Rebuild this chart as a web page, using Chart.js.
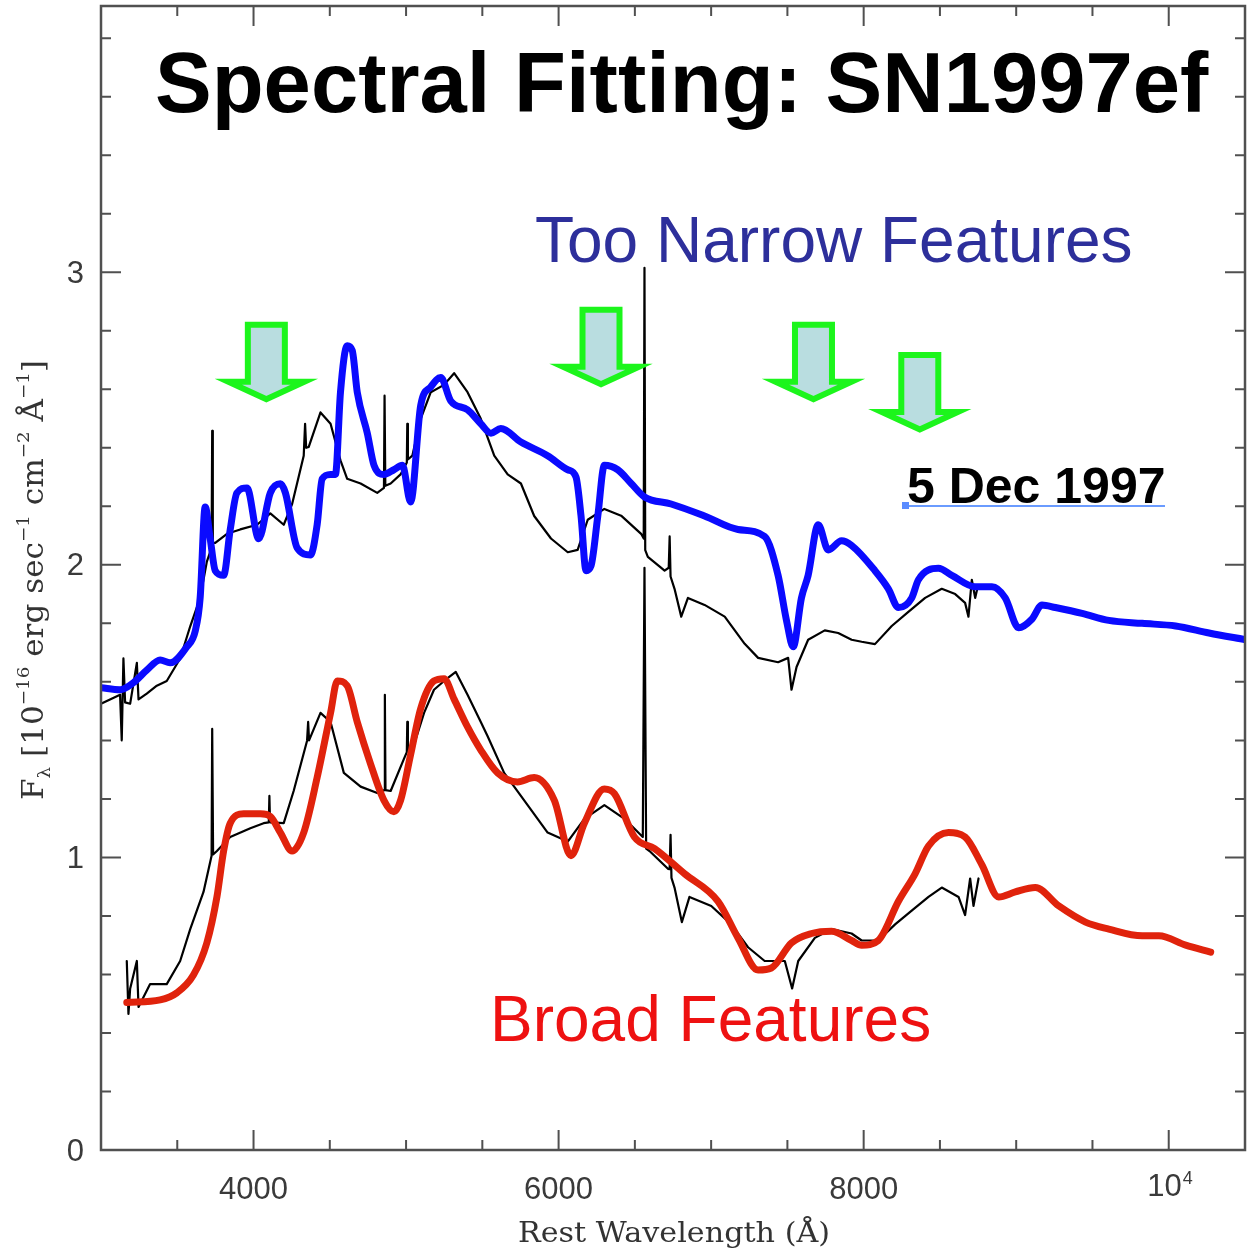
<!DOCTYPE html>
<html>
<head>
<meta charset="utf-8">
<script src="https://cdn.jsdelivr.net/npm/chart.js@4.4.0/dist/chart.umd.min.js"></script>
<style>
  html, body { margin: 0; padding: 0; background: #fff; }
  #wrap { width: 1249px; height: 1253px; position: relative; }
</style>
</head>
<body>
<div id="wrap"><canvas id="spectrum"></canvas></div>
<script>
// Model fit with features that are too narrow (blue)
const blueWave = [3000, 3125, 3212, 3300, 3388, 3453, 3563, 3618, 3650, 3683, 3716, 3749, 3804, 3847, 3891, 3957, 4034, 4110, 4176, 4209, 4286, 4373, 4417, 4450, 4505, 4537, 4570, 4614, 4647, 4680, 4746, 4790, 4855, 4920, 4976, 5030, 5096, 5162, 5227, 5293, 5403, 5490, 5556, 5621, 5753, 5928, 6060, 6114, 6147, 6180, 6213, 6257, 6300, 6388, 6476, 6563, 6738, 6957, 7176, 7351, 7439, 7494, 7538, 7592, 7636, 7702, 7768, 7855, 7921, 8074, 8162, 8228, 8315, 8359, 8490, 8578, 8731, 8841, 8928, 9016, 9104, 9169, 9257, 9432, 9607, 9826, 10045, 10264, 10505];
const blueFlux = [1.58, 1.573, 1.597, 1.64, 1.675, 1.665, 1.72, 1.774, 1.887, 2.198, 2.089, 1.98, 1.964, 2.12, 2.246, 2.263, 2.089, 2.246, 2.277, 2.246, 2.058, 2.034, 2.137, 2.294, 2.309, 2.309, 2.59, 2.749, 2.733, 2.59, 2.45, 2.34, 2.309, 2.325, 2.34, 2.215, 2.545, 2.608, 2.64, 2.56, 2.53, 2.482, 2.45, 2.466, 2.42, 2.373, 2.325, 2.30, 2.167, 1.98, 1.997, 2.167, 2.34, 2.325, 2.278, 2.232, 2.208, 2.167, 2.121, 2.097, 1.964, 1.81, 1.72, 1.887, 1.964, 2.137, 2.051, 2.082, 2.066, 1.98, 1.918, 1.854, 1.887, 1.949, 1.988, 1.964, 1.925, 1.925, 1.887, 1.785, 1.815, 1.863, 1.854, 1.834, 1.81, 1.80, 1.791, 1.767, 1.744];

// Model fit with broad features (red)
const redWave = [3169, 3388, 3497, 3606, 3694, 3760, 3804, 3847, 3935, 4045, 4110, 4176, 4253, 4329, 4417, 4505, 4549, 4614, 4680, 4767, 4855, 4920, 4964, 5030, 5096, 5183, 5249, 5315, 5403, 5490, 5600, 5731, 5840, 5972, 6081, 6169, 6300, 6366, 6497, 6629, 6826, 7045, 7176, 7308, 7395, 7527, 7658, 7790, 7921, 7987, 8096, 8228, 8337, 8425, 8556, 8665, 8775, 8885, 8994, 9125, 9279, 9454, 9607, 9826, 9936, 10111, 10275];
const redFlux = [0.504, 0.513, 0.537, 0.598, 0.708, 0.865, 1.022, 1.117, 1.149, 1.149, 1.14, 1.085, 1.022, 1.085, 1.273, 1.494, 1.603, 1.587, 1.463, 1.32, 1.195, 1.156, 1.195, 1.352, 1.509, 1.603, 1.611, 1.541, 1.446, 1.367, 1.289, 1.258, 1.273, 1.195, 1.006, 1.117, 1.234, 1.218, 1.07, 1.03, 0.944, 0.85, 0.725, 0.615, 0.622, 0.708, 0.74, 0.748, 0.716, 0.70, 0.716, 0.85, 0.944, 1.039, 1.085, 1.07, 0.975, 0.865, 0.882, 0.897, 0.834, 0.779, 0.755, 0.732, 0.732, 0.70, 0.676];

// Observed spectrum, upper copy
const obsUpWave = [3000, 3125, 3136, 3147, 3158, 3191, 3235, 3246, 3300, 3366, 3431, 3519, 3585, 3650, 3694, 3725, 3729, 3733, 3749, 3826, 3913, 4023, 4110, 4198, 4253, 4329, 4338, 4345, 4362, 4439, 4505, 4570, 4614, 4702, 4811, 4855, 4859, 4864, 4899, 4964, 5005, 5008, 5012, 5041, 5096, 5162, 5249, 5315, 5403, 5490, 5578, 5666, 5753, 5840, 5950, 6060, 6125, 6191, 6300, 6410, 6541, 6558, 6563, 6568, 6585, 6695, 6722, 6728, 6734, 6760, 6804, 6848, 6957, 7089, 7220, 7308, 7439, 7505, 7527, 7560, 7636, 7745, 7833, 7921, 7987, 8074, 8184, 8293, 8403, 8512, 8600, 8665, 8687, 8709, 8731, 8750];
const obsUpFlux = [1.525, 1.556, 1.40, 1.68, 1.53, 1.525, 1.665, 1.54, 1.56, 1.587, 1.603, 1.68, 1.79, 1.887, 2.011, 2.058, 2.458, 2.075, 2.075, 2.106, 2.121, 2.137, 2.176, 2.137, 2.208, 2.373, 2.482, 2.40, 2.403, 2.521, 2.482, 2.357, 2.294, 2.278, 2.246, 2.263, 2.578, 2.27, 2.278, 2.309, 2.35, 2.482, 2.36, 2.373, 2.499, 2.59, 2.615, 2.655, 2.59, 2.499, 2.373, 2.309, 2.278, 2.167, 2.09, 2.043, 2.051, 2.154, 2.191, 2.168, 2.106, 2.09, 3.015, 2.05, 2.027, 1.98, 1.99, 2.097, 1.96, 1.918, 1.823, 1.887, 1.863, 1.823, 1.73, 1.682, 1.667, 1.682, 1.573, 1.651, 1.744, 1.776, 1.767, 1.744, 1.737, 1.729, 1.791, 1.839, 1.887, 1.918, 1.90, 1.87, 1.823, 1.949, 1.887, 1.93];

// Observed spectrum, lower copy
const obsLoWave = [3169, 3180, 3191, 3235, 3246, 3322, 3431, 3519, 3585, 3672, 3725, 3729, 3735, 3760, 3847, 3979, 4066, 4100, 4104, 4108, 4198, 4263, 4351, 4358, 4364, 4439, 4505, 4592, 4702, 4811, 4857, 4861, 4865, 4899, 4986, 5005, 5008, 5012, 5052, 5118, 5183, 5249, 5326, 5403, 5490, 5534, 5643, 5797, 5928, 6060, 6169, 6300, 6432, 6552, 6563, 6574, 6596, 6717, 6728, 6734, 6740, 6760, 6808, 6858, 7001, 7132, 7242, 7351, 7483, 7531, 7571, 7680, 7790, 7921, 7987, 8096, 8206, 8315, 8425, 8512, 8622, 8665, 8698, 8720, 8753];
const obsLoFlux = [0.646, 0.465, 0.551, 0.646, 0.489, 0.567, 0.567, 0.646, 0.755, 0.882, 1.006, 1.439, 1.01, 1.022, 1.07, 1.10, 1.117, 1.12, 1.21, 1.12, 1.117, 1.227, 1.399, 1.463, 1.40, 1.494, 1.463, 1.289, 1.242, 1.22, 1.23, 1.556, 1.23, 1.227, 1.337, 1.36, 1.463, 1.37, 1.385, 1.494, 1.573, 1.603, 1.634, 1.556, 1.463, 1.415, 1.289, 1.179, 1.085, 1.054, 1.132, 1.179, 1.132, 1.07, 1.99, 1.03, 1.022, 0.961, 0.96, 1.077, 0.93, 0.897, 0.779, 0.865, 0.834, 0.771, 0.693, 0.646, 0.646, 0.552, 0.646, 0.725, 0.755, 0.74, 0.716, 0.716, 0.771, 0.818, 0.865, 0.897, 0.865, 0.803, 0.928, 0.834, 0.928];

// Axis ticks
const xTicks = [3500, 4000, 4500, 5000, 5500, 6000, 6500, 7000, 7500, 8000, 8500, 9000, 9500, 10000];
const xMajor = [4000, 6000, 8000, 10000];
const xLabels = ['4000', '6000', '8000', '10'];
const yTicks = [0.2, 0.4, 0.6, 0.8, 1, 1.2, 1.4, 1.6, 1.8, 2, 2.2, 2.4, 2.6, 2.8, 3, 3.2, 3.4, 3.6, 3.8];
const yMajor = [0, 1, 2, 3];
const yLabels = ['0', '1', '2', '3'];

// Where the green arrows point (wavelength, flux of arrow tip)
const arrowWave = [4084, 6278, 7671, 8368];
const arrowFlux = [2.554, 2.605, 2.554, 2.451];

function toPoints(w, f) {
    return w.map((x, i) => ({ x: x, y: f[i] }));
}

function drawArrow(c, tx, ty) {
    c.beginPath();
    c.moveTo(tx - 18.5, ty - 78);
    c.lineTo(tx + 18.5, ty - 78);
    c.lineTo(tx + 18.5, ty - 21);
    c.lineTo(tx + 38, ty - 21);
    c.lineTo(tx, ty - 3.5);
    c.lineTo(tx - 38, ty - 21);
    c.lineTo(tx - 18.5, ty - 21);
    c.closePath();
    c.fillStyle = '#b9dde0';
    c.fill();
    c.lineWidth = 6;
    c.lineJoin = 'miter';
    c.strokeStyle = '#1cf51c';
    c.stroke();
}

function drawYTitle(c) {
    // [text, 0 normal / 1 superscript / -1 subscript]
    const parts = [['F', 0], ['\u03bb', -1], [' [10', 0], ['\u221216', 1], [' erg sec', 0], ['\u22121', 1],
                   [' cm', 0], ['\u22122', 1], [' \u00c5', 0], ['\u22121', 1], [']', 0]];
    const big = '29px "DejaVu Serif"', small = '17px "DejaVu Serif"';
    let total = 0;
    parts.forEach(p => { c.font = p[1] ? small : big; total += c.measureText(p[0]).width; });
    const k = 440 / total;
    c.save();
    c.translate(43, 800);
    c.rotate(-Math.PI / 2);
    c.scale(k, 1);
    c.fillStyle = '#333';
    c.textBaseline = 'alphabetic';
    let x = 0;
    parts.forEach(p => {
        c.font = p[1] ? small : big;
        const dy = p[1] === 1 ? -14 : (p[1] === -1 ? 7 : 0);
        c.fillText(p[0], x, dy);
        x += c.measureText(p[0]).width;
    });
    c.restore();
}

const decorations = {
    id: 'decorations',
    afterDraw(chart) {
        const c = chart.ctx, a = chart.chartArea;
        const xs = chart.scales.x, ys = chart.scales.y;
        c.save();

        // arrows
        arrowWave.forEach((w, i) => drawArrow(c, xs.getPixelForValue(w), ys.getPixelForValue(arrowFlux[i])));

        // frame
        c.strokeStyle = '#505050';
        c.lineWidth = 2.5;
        c.strokeRect(a.left, a.top, a.right - a.left, a.bottom - a.top);

        // inward ticks on all four sides
        c.lineWidth = 2;
        c.beginPath();
        xTicks.forEach(v => {
            const p = xs.getPixelForValue(v), len = xMajor.includes(v) ? 20 : 10;
            c.moveTo(p, a.bottom); c.lineTo(p, a.bottom - len);
            c.moveTo(p, a.top); c.lineTo(p, a.top + len);
        });
        yTicks.forEach(v => {
            const p = ys.getPixelForValue(v), len = yMajor.includes(v) ? 20 : 10;
            c.moveTo(a.left, p); c.lineTo(a.left + len, p);
            c.moveTo(a.right, p); c.lineTo(a.right - len, p);
        });
        c.stroke();

        // tick labels
        c.fillStyle = '#3a3a3a';
        c.font = '31px "Liberation Sans"';
        c.textAlign = 'right';
        c.textBaseline = 'middle';
        yMajor.forEach((v, i) => c.fillText(yLabels[i], 84, ys.getPixelForValue(v) + 2));
        c.textBaseline = 'alphabetic';
        xMajor.forEach((v, i) => {
            const p = xs.getPixelForValue(v);
            if (v === 10000) {
                c.textAlign = 'right';
                c.font = '31px "Liberation Sans"';
                c.fillText(xLabels[i], p + 13, 1196);
                c.textAlign = 'left';
                c.font = '18px "Liberation Sans"';
                c.fillText('4', p + 14, 1184);
            } else {
                c.textAlign = 'center';
                c.font = '31px "Liberation Sans"';
                c.fillText(xLabels[i], p, 1199);
            }
        });

        // axis titles
        c.textAlign = 'left';
        c.fillStyle = '#333';
        c.font = '27px "DejaVu Serif"';
        const xt = 'Rest Wavelength (\u00c5)';
        const kx = 312 / c.measureText(xt).width;
        c.save();
        c.translate(518, 1242);
        c.scale(kx, 1);
        c.fillText(xt, 0, 0);
        c.restore();
        drawYTitle(c);

        // annotations
        c.fillStyle = '#000';
        c.font = 'bold 85px "Liberation Sans"';
        c.fillText('Spectral Fitting: SN1997ef', 155, 112);

        c.fillStyle = '#2d2f9b';
        c.font = '64px "Liberation Sans"';
        c.fillText('Too Narrow Features', 535, 262);

        c.fillStyle = '#ee1111';
        c.fillText('Broad Features', 490, 1041);

        c.fillStyle = '#000';
        c.font = 'bold 50px "Liberation Sans"';
        c.fillText('5 Dec 1997', 907, 503);
        c.strokeStyle = '#6a9bff';
        c.lineWidth = 2;
        c.beginPath();
        c.moveTo(902, 506); c.lineTo(1165, 506);
        c.stroke();
        c.fillStyle = '#5b8cff';
        c.fillRect(902, 502, 7, 7);

        c.restore();
    }
};

const ctx = document.getElementById('spectrum').getContext('2d');
new Chart(ctx, {
    type: 'line',
    data: {
        datasets: [
            { label: 'Too narrow model', data: toPoints(blueWave, blueFlux), borderColor: '#0a0aff', borderWidth: 7,
              cubicInterpolationMode: 'monotone', order: 1 },
            { label: 'Broad model', data: toPoints(redWave, redFlux), borderColor: '#e0230c', borderWidth: 7,
              cubicInterpolationMode: 'monotone', order: 1 },
            { label: 'Observed (offset)', data: toPoints(obsUpWave, obsUpFlux), borderColor: '#000000', borderWidth: 2.2, order: 2 },
            { label: 'Observed', data: toPoints(obsLoWave, obsLoFlux), borderColor: '#000000', borderWidth: 2.2, order: 2 }
        ]
    },
    options: {
        responsive: true,
        maintainAspectRatio: false,
        animation: false,
        layout: { padding: { left: 101, right: 4, top: 6, bottom: 103 } },
        elements: {
            point: { radius: 0 },
            line: { tension: 0, borderCapStyle: 'round', borderJoinStyle: 'round', fill: false }
        },
        scales: {
            x: { type: 'linear', min: 3000, max: 10500, display: false },
            y: { type: 'linear', min: 0, max: 3.91, display: false }
        },
        plugins: {
            legend: { display: false },
            tooltip: { enabled: false }
        }
    },
    plugins: [decorations]
});
</script>
</body>
</html>
